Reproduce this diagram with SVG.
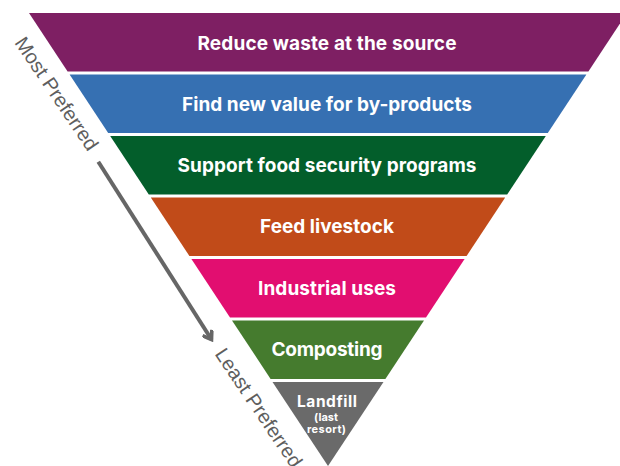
<svg xmlns="http://www.w3.org/2000/svg" width="620" height="466" viewBox="0 0 620 466">
  <style>
    .lbl { font-family: Inter, "Liberation Sans", sans-serif; font-weight: 700; fill: #ffffff; text-anchor: middle; }
    .big { font-size: 19px; }
    .side { font-family: "Liberation Sans", Arial, sans-serif; font-size: 20px; fill: #5e5e5e; text-anchor: middle; }
  </style>
  <defs>
    <marker id="chev" viewBox="0 0 12 12" refX="9" refY="6" markerWidth="12" markerHeight="12" markerUnits="userSpaceOnUse" orient="auto">
      <path d="M1,0.5 L9,6 L1,11.5" fill="none" stroke="#666666" stroke-width="3.6" stroke-linecap="butt" stroke-linejoin="miter"/>
    </marker>
  </defs>
  <rect width="620" height="466" fill="#ffffff"/>

  <g id="band1">
    <polygon points="29,13 627,13 588.4,71.5 67.6,71.5" fill="#7e1f63"/>
    <text class="lbl big" x="327" y="50" textLength="259">Reduce waste at the source</text>
  </g>
  <g id="band2">
    <polygon points="69.6,74.5 586.4,74.5 547.8,133 108.2,133" fill="#3670b2"/>
    <text class="lbl big" x="327" y="111" textLength="290">Find new value for by-products</text>
  </g>
  <g id="band3">
    <polygon points="110.2,136 545.8,136 507.2,194.5 148.8,194.5" fill="#035e2b"/>
    <text class="lbl big" x="327" y="172" textLength="299">Support food security programs</text>
  </g>
  <g id="band4">
    <polygon points="150.8,197.5 505.2,197.5 466.6,256 189.4,256" fill="#c14b19"/>
    <text class="lbl big" x="327" y="233" textLength="134">Feed livestock</text>
  </g>
  <g id="band5">
    <polygon points="191.4,259 464.6,259 426,317.5 230,317.5" fill="#e20e70"/>
    <text class="lbl big" x="327" y="295" textLength="138">Industrial uses</text>
  </g>
  <g id="band6">
    <polygon points="232,320.5 424,320.5 385.4,379 270.6,379" fill="#457b2e"/>
    <text class="lbl big" x="327" y="355.5" textLength="111">Composting</text>
  </g>
  <g id="band7">
    <polygon points="272.5,382 383.5,382 328,466" fill="#6a6a6a"/>
    <text class="lbl" x="327" y="406.5" font-size="15.5" textLength="60">Landfill</text>
    <text class="lbl" x="326" y="420.5" font-size="11" textLength="24">(last</text>
    <text class="lbl" x="326.5" y="433" font-size="11" textLength="39">resort)</text>
  </g>

  <g id="connectors">
    <line x1="98.3" y1="161.7" x2="211.5" y2="339.5" stroke="#666666" stroke-width="4" marker-end="url(#chev)"/>
  </g>

  <g id="side-labels">
    <text class="side" transform="translate(51,97.5) rotate(56)" x="0" y="0" textLength="132">Most Preferred</text>
    <text class="side" transform="translate(253,411.5) rotate(56)" x="0" y="0" textLength="139">Least Preferred</text>
  </g>
</svg>
